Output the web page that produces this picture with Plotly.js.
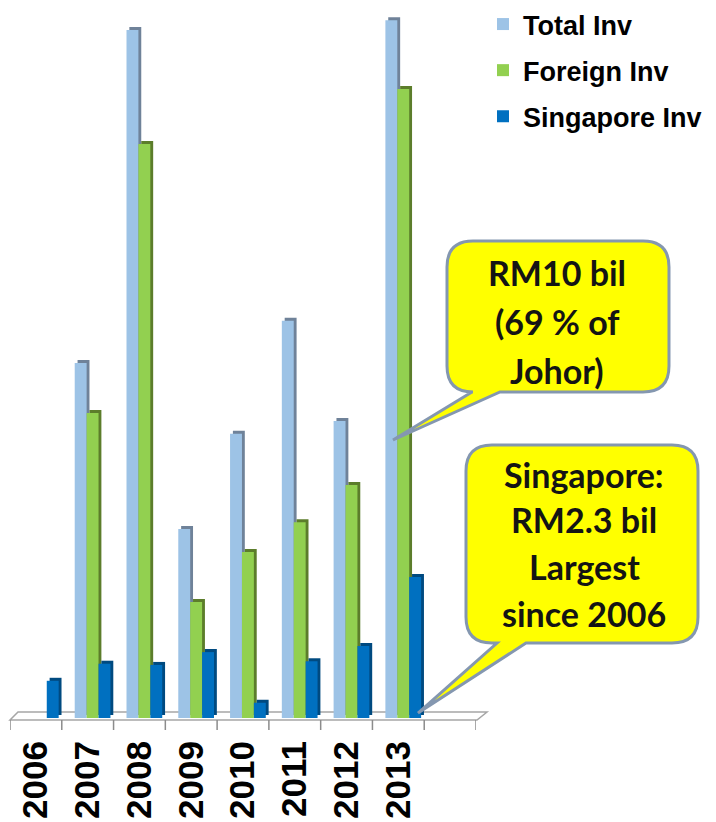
<!DOCTYPE html>
<html>
<head>
<meta charset="utf-8">
<script src="https://cdn.plot.ly/plotly-3.0.1.min.js"></script>
<style>
html,body{margin:0;padding:0;background:#fff;}
#chart{width:716px;height:822px;}
</style>
</head>
<body>
<div id="chart"></div>
<script>
// ---- data (RM billion) ----
var years = ['2006','2007','2008','2009','2010','2011','2012','2013'];
var totalInv = [null, 5.82, 11.28, 3.10, 4.66, 6.51, 4.87, 11.44];
var foreignInv = [null, 5.00, 9.41, 1.90, 2.72, 3.21, 3.82, 10.31];
var singaporeInv = [0.61, 0.89, 0.87, 1.08, 0.25, 0.93, 1.18, 2.31];
var seriesNames = ['Total Inv', 'Foreign Inv', 'Singapore Inv'];
var callout1 = ['RM10 bil', '(69 % of', 'Johor)'];
var callout2 = ['Singapore:', 'RM2.3 bil', 'Largest', 'since 2006'];

// ---- layout geometry ----
var ML = 10, MT = 0, PW = 466, PH = 718, FIG_W = 716, FIG_H = 822;
var YMAX = 11.77, SHADOW_PX = 3;
function px(x){ return (x - ML) / PW; }
function py(y){ return (MT + PH - y) / PH; }
function P(x, y){ return px(x).toFixed(5) + ',' + py(y).toFixed(5); }

var colors = ['#9DC3E6', '#92D050', '#0070C0'];
var shadowColors = ['#6F8299', '#5C7D2B', '#004A80'];
var offsets = [-0.25, -0.02, 0.21];
var barW = 0.23;
var seriesData = [totalInv, foreignInv, singaporeInv];

var traces = [];
// shadow (3D side) traces on base axis
for (var i = 0; i < 3; i++) {
  traces.push({
    type: 'bar', x: years, y: seriesData[i], xaxis: 'x', yaxis: 'y',
    offset: offsets[i] + 0.055, width: barW,
    marker: {color: shadowColors[i], line: {width: 0}},
    showlegend: false, hoverinfo: 'skip'
  });
}
// main bars on overlaying axis
for (var j = 0; j < 3; j++) {
  traces.push({
    type: 'bar', name: seriesNames[j], x: years, y: seriesData[j], xaxis: 'x', yaxis: 'y2',
    offset: offsets[j], width: barW,
    marker: {color: colors[j], line: {width: 0}},
    legendgroup: 'g' + j
  });
}

function bubblePath(x0, y0, x1, y1, r, tb1, tip, tb2) {
  return 'M' + P(x0 + r, y0) +
    ' L' + P(x1 - r, y0) +
    ' Q' + P(x1, y0) + ' ' + P(x1, y0 + r) +
    ' L' + P(x1, y1 - r) +
    ' Q' + P(x1, y1) + ' ' + P(x1 - r, y1) +
    ' L' + P(tb2, y1) +
    ' L' + P(tip[0], tip[1]) +
    ' L' + P(tb1, y1) +
    ' L' + P(x0 + r, y1) +
    ' Q' + P(x0, y1) + ' ' + P(x0, y1 - r) +
    ' L' + P(x0, y0 + r) +
    ' Q' + P(x0, y0) + ' ' + P(x0 + r, y0) + ' Z';
}

var shapes = [];
// floor slab
shapes.push({
  type: 'path', xref: 'paper', yref: 'paper', layer: 'below',
  path: 'M' + P(10, 720) + ' L' + P(477, 720) + ' L' + P(487, 712) + ' L' + P(18, 712) + ' Z',
  line: {color: '#A6A6A6', width: 1.5}, fillcolor: '#FFFFFF'
});
for (var k = 0; k <= years.length + 1; k++) {
  shapes.push({
    type: 'line', xref: 'x', yref: 'paper', layer: 'below',
    x0: k - 0.5, x1: k - 0.5, y0: py(720), y1: py(730),
    line: {color: '#8C8C8C', width: 1.5}
  });
}
// callouts
shapes.push({
  type: 'path', xref: 'paper', yref: 'paper', layer: 'above',
  path: bubblePath(447, 241, 669, 392, 26, 472, [393, 440], 500),
  line: {color: '#8497B0', width: 3}, fillcolor: '#FFFF00'
});
shapes.push({
  type: 'path', xref: 'paper', yref: 'paper', layer: 'above',
  path: bubblePath(466, 445, 698, 643, 26, 497, [418, 713], 526),
  line: {color: '#8497B0', width: 3}, fillcolor: '#FFFF00'
});

var annFont = {family: 'Lato, "Open Sans", sans-serif', size: 34, color: '#141414', weight: 700};
var annotations = [];
var c1y = [272, 321, 370];
callout1.forEach(function(t, i){
  annotations.push({xref: 'paper', yref: 'paper', x: px(557), y: py(c1y[i]),
    text: t, showarrow: false, font: annFont, xanchor: 'center', yanchor: 'middle'});
});
var c2y = [474, 519, 566, 613];
callout2.forEach(function(t, i){
  annotations.push({xref: 'paper', yref: 'paper', x: px(584), y: py(c2y[i]),
    text: t, showarrow: false, font: annFont, xanchor: 'center', yanchor: 'middle'});
});

var layout = {
  width: FIG_W, height: FIG_H,
  margin: {l: ML, r: FIG_W - ML - PW, t: MT, b: FIG_H - MT - PH, pad: 0},
  paper_bgcolor: '#FFFFFF', plot_bgcolor: 'rgba(0,0,0,0)',
  barmode: 'overlay',
  showlegend: true,
  legend: {
    x: px(483), y: 1.0, xanchor: 'left', yanchor: 'top',
    font: {family: '"Liberation Sans", Arial, sans-serif', size: 27, color: '#000', weight: 700},
    traceorder: 'grouped', tracegroupgap: 8, bgcolor: 'rgba(0,0,0,0)'
  },
  xaxis: {
    type: 'category', range: [-0.5, years.length + 0.5],
    showgrid: false, zeroline: false, showline: false, ticks: '',
    tickangle: -90, ticklabelstandoff: 15,
    tickfont: {family: '"Liberation Sans", Arial, sans-serif', size: 35, color: '#000', weight: 700},
    fixedrange: true
  },
  yaxis: {
    range: [-SHADOW_PX * YMAX / PH, YMAX - SHADOW_PX * YMAX / PH],
    visible: false, fixedrange: true
  },
  yaxis2: {
    range: [0, YMAX], overlaying: 'y', visible: false, fixedrange: true
  },
  shapes: shapes,
  annotations: annotations
};

Plotly.newPlot('chart', traces, layout, {displayModeBar: false, staticPlot: true});
</script>
</body>
</html>
